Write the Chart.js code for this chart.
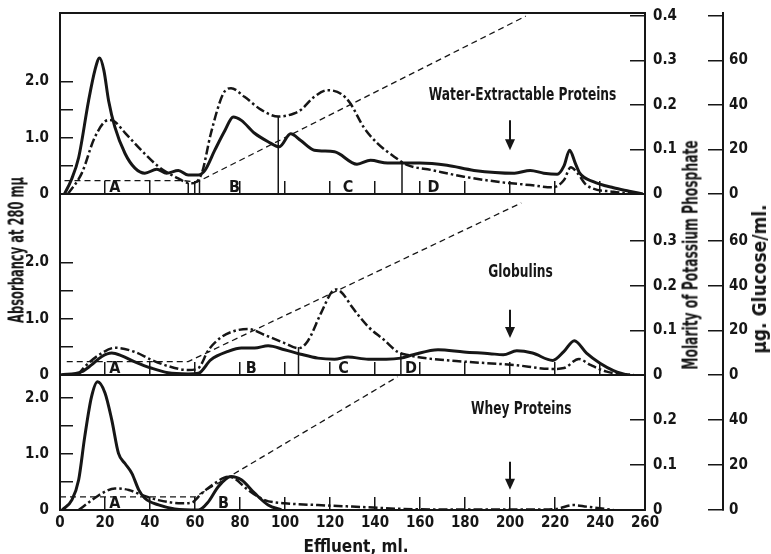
<!DOCTYPE html>
<html>
<head>
<meta charset="utf-8">
<script src="https://cdn.jsdelivr.net/npm/chart.js@4.4.1/dist/chart.umd.min.js"></script>
<style>
  html, body { margin: 0; padding: 0; background: #fff; }
  #wrap { position: relative; width: 771px; height: 554px; overflow: hidden; background: #fff; }
  #wrap canvas { position: absolute; left: 0; top: 0; }
  .lbl {
    position: absolute;
    font-family: 'Liberation Sans Narrow', 'DejaVu Sans Condensed', sans-serif;
    font-weight: bold;
    color: #161616;
    white-space: nowrap;
    line-height: 1;
    transform: translate(-50%, -50%);
  }
</style>
</head>
<body>
<div id="wrap">
  <canvas id="topChart" width="771" height="554"></canvas>
  <canvas id="midChart" width="771" height="554"></canvas>
  <canvas id="botChart" width="771" height="554"></canvas>
  <div class="lbl" style="left:17px; top:250px; font-size:21px; transform:translate(-50%,-50%) rotate(-90deg) scaleX(0.61);">Absorbancy at 280 mμ</div>
  <div class="lbl" style="left:691px; top:255px; font-size:21px; transform:translate(-50%,-50%) rotate(-90deg) scaleX(0.65);">Molarity of Potassium Phosphate</div>
  <div class="lbl" style="left:759px; top:279px; font-size:20px; transform:translate(-50%,-50%) rotate(-90deg) scaleX(0.95);">μg. Glucose/ml.</div>
  <div class="lbl" style="left:356px; top:546px; font-size:17px;">Effluent, ml.</div>
</div>
<script>
const FONT = "'Liberation Sans Narrow', 'DejaVu Sans Condensed', sans-serif";
const INK = '#161616';

const xTicks = [0, 20, 40, 60, 80, 100, 120, 140, 160, 180, 200, 220, 240, 260];
const arrowMl = 200;

// Water-extractable proteins
const topAbsMl = [2, 5, 8.3, 12.7, 15.5, 17.6, 19.5, 21.6, 24.4, 28.9, 33.3, 37.7, 43, 47.4, 52.6, 57, 61.5, 64.4, 68.8, 73.3, 77, 80.6, 86.5, 92.5, 97.5, 102.5, 107, 113, 122, 132, 138, 145.6, 160, 172, 184, 202, 209, 215, 221, 224, 226.5, 229, 231, 237, 246, 253, 259];
const topAbs = [0, 0.25, 0.65, 1.66, 2.2, 2.42, 2.2, 1.66, 1.19, 0.72, 0.46, 0.37, 0.44, 0.37, 0.42, 0.34, 0.34, 0.42, 0.78, 1.13, 1.37, 1.31, 1.08, 0.93, 0.84, 1.07, 0.95, 0.78, 0.75, 0.53, 0.6, 0.55, 0.55, 0.51, 0.42, 0.37, 0.42, 0.37, 0.35, 0.5, 0.78, 0.55, 0.37, 0.22, 0.11, 0.05, 0];
const topGlucMl = [3.5, 9.7, 15.5, 21.6, 23.6, 29, 36, 43.8, 51, 58.5, 63, 67, 72.5, 76, 82, 89.5, 97, 104, 107, 113, 119, 125, 129, 135, 141, 148.5, 154.5, 165, 179.5, 194.5, 209, 219, 224, 227, 230, 234, 246, 259];
const topGluc = [0, 9.4, 25.6, 33.3, 33, 27.4, 19.8, 12.3, 7.8, 4.8, 9.3, 27, 45, 47.6, 43.7, 37.8, 34.8, 36.2, 37.8, 43.7, 46.7, 45, 40.8, 30, 22.9, 16.8, 13, 10.8, 7.8, 5.5, 4, 3, 6.3, 12, 9.4, 4, 1, 0];
const topMolMl = [2, 55, 61, 207];
const topMol = [0.03, 0.03, 0.027, 0.4];
const topLetters = ['A', 'B', 'C', 'D'];
const topLetterMl = [24.4, 77.5, 128, 166];
const topCutMl = [57, 62, 97, 152];
const topCutGluc = [5, 6.5, 35, 14.5];
const topArrow = [1.31, 0.78];

// Globulins
const midAbsMl = [0, 9.7, 14, 18.6, 23, 27.5, 33, 40.8, 48, 57, 61.5, 67, 74.7, 80.6, 86.5, 92.5, 99.8, 107, 114.6, 122, 128, 137, 145, 151.5, 157, 168, 179.5, 191, 197, 203, 210, 219, 224, 228.6, 234, 240, 246, 252];
const midAbs = [0, 0.06, 0.18, 0.33, 0.39, 0.34, 0.24, 0.12, 0.04, 0.02, 0.03, 0.27, 0.42, 0.48, 0.48, 0.52, 0.45, 0.37, 0.3, 0.28, 0.32, 0.28, 0.28, 0.3, 0.36, 0.45, 0.41, 0.38, 0.36, 0.43, 0.39, 0.26, 0.42, 0.61, 0.39, 0.21, 0.08, 0];
const midGlucMl = [8, 11, 18.6, 24.4, 33, 40.8, 48, 57, 61.5, 66, 71.8, 77.5, 83.6, 91, 99.8, 106, 110, 116, 121, 123, 126, 129.4, 137, 144, 150, 155, 162, 179.5, 201.6, 219, 224, 230.6, 235.7, 243, 255];
const midGluc = [0, 3.7, 9.8, 12.2, 10.4, 6.7, 4, 2.2, 3.1, 11.2, 17, 19.7, 20.6, 17.9, 14.3, 12, 15, 27.7, 37.5, 38.3, 36, 31, 21.6, 15.7, 10.4, 8.8, 7.6, 6, 4.5, 2.7, 3.1, 7.2, 4.5, 1.5, 0];
const midMolMl = [3, 57, 205];
const midMol = [0.03, 0.03, 0.385];
const midLetters = ['A', 'B', 'C', 'D'];
const midLetterMl = [24.4, 85, 126, 156];
const midCutMl = [106, 151.5];
const midCutGluc = [12.5, 10];
const midArrow = [1.16, 0.66];

// Whey proteins
const botAbsMl = [1, 5.3, 8.3, 11, 14, 16.7, 20, 23, 26, 28.9, 32, 35, 37.7, 43.8, 51, 61.5, 66, 70.4, 76, 80.6, 86.5, 92.5, 98.4];
const botAbs = [0, 0.18, 0.54, 1.31, 2.02, 2.29, 2.09, 1.61, 1.01, 0.83, 0.65, 0.36, 0.21, 0.09, 0.02, 0, 0.15, 0.42, 0.6, 0.54, 0.3, 0.09, 0];
const botGlucMl = [8.3, 14.2, 18.6, 24.4, 30.6, 36.3, 43.8, 54, 58.5, 63, 68.8, 74.7, 77.5, 83.6, 91, 99.8, 114.6, 137, 152, 180, 215, 221, 228, 234, 246];
const botGluc = [0, 4.4, 7.4, 9.6, 8.9, 6.7, 4.4, 3, 3.3, 7.4, 11.9, 14.8, 14, 8.9, 4.4, 3, 2.2, 1.2, 0.5, 0.2, 0.2, 0.5, 2.2, 1.5, 0];
const botMolMl = [0, 60, 150];
const botMol = [0.029, 0.029, 0.296];
const botLetters = ['A', 'B'];
const botLetterMl = [24.4, 72.7];
const botCutMl = [];
const botCutGluc = [];
const botArrow = [0.86, 0.36];

Chart.defaults.font.family = FONT;
Chart.defaults.font.weight = 'bold';
Chart.defaults.font.size = 15;
Chart.defaults.color = INK;

const pts = (xs, ys) => xs.map((x, i) => ({ x, y: ys[i] }));
const setTicks = (list) => (scale) => { scale.ticks = list.map((v) => ({ value: v })); };

// fixed axis size; drop the label overhang so it does not push the plot area
const fixWidth = (w) => (s) => { s.width = w; s.paddingTop = 0; s.paddingBottom = 0; };
const fixHeight = (h) => (s) => { s.height = h; s.paddingLeft = 0; s.paddingRight = 0; };

const panelMarks = {
  id: 'panelMarks',
  afterDatasetsDraw(chart, args, o) {
    const { ctx, chartArea } = chart;
    const x = chart.scales.x;
    const a = chart.scales.abs;
    const g = chart.scales.gluc;
    ctx.save();
    ctx.strokeStyle = INK;
    ctx.fillStyle = INK;

    // fraction cuts, from the baseline up to the glucose curve
    ctx.lineWidth = 1.5;
    o.cutMl.forEach((ml, i) => {
      const px = x.getPixelForValue(ml);
      ctx.beginPath();
      ctx.moveTo(px, g.getPixelForValue(0));
      ctx.lineTo(px, g.getPixelForValue(o.cutGluc[i]));
      ctx.stroke();
    });

    ctx.font = `bold 16px ${FONT}`;
    ctx.textAlign = 'center';
    ctx.textBaseline = 'alphabetic';
    o.letters.forEach((t, i) => {
      ctx.fillText(t, x.getPixelForValue(o.letterMl[i]), chartArea.bottom - 2);
    });

    // panel title, condensed like the original face
    ctx.save();
    ctx.translate(x.getPixelForValue(o.titleAt[0]), a.getPixelForValue(o.titleAt[1]));
    ctx.scale(0.8, 1);
    ctx.font = `bold 17px ${FONT}`;
    ctx.textBaseline = 'middle';
    ctx.fillText(o.title, 0, 0);
    ctx.restore();

    // arrow at the start of the salt step
    const ax = x.getPixelForValue(arrowMl);
    const y0 = a.getPixelForValue(o.arrow[0]);
    const y1 = a.getPixelForValue(o.arrow[1]);
    ctx.lineWidth = 2;
    ctx.beginPath();
    ctx.moveTo(ax, y0);
    ctx.lineTo(ax, y1 - 8);
    ctx.stroke();
    ctx.beginPath();
    ctx.moveTo(ax - 5, y1 - 11);
    ctx.lineTo(ax + 5, y1 - 11);
    ctx.lineTo(ax, y1);
    ctx.closePath();
    ctx.fill();
    ctx.restore();
  }
};

function makePanel(id, p) {
  const scales = {
    x: {
      type: 'linear', position: 'bottom', min: 0, max: 260,
      afterBuildTicks: setTicks(xTicks),
      ticks: { display: p.xLabels, padding: 17, autoSkip: false, maxRotation: 0, callback: (v) => v },
      grid: { drawOnChartArea: false, tickLength: -13, color: INK, lineWidth: 1.5 },
      border: { color: INK, width: 2 },
      afterFit: fixHeight(p.xHeight)
    },
    abs: {
      type: 'linear', position: 'left', min: 0, max: p.absMax,
      afterBuildTicks: setTicks([0, 0.5, 1, 1.5, 2]),
      ticks: {
        padding: 24, autoSkip: false,
        callback: (v) => (v === 0 ? '0' : Number.isInteger(v) ? v.toFixed(1) : '')
      },
      grid: { drawOnChartArea: false, tickLength: -13, color: INK, lineWidth: 1.5 },
      border: { color: INK, width: 2 },
      afterFit: fixWidth(60)
    },
    mol: {
      type: 'linear', position: 'right', weight: 0, min: 0, max: p.molMax,
      afterBuildTicks: setTicks(p.molTicks),
      ticks: { padding: 23, autoSkip: false, callback: (v) => (v === 0 ? '0' : v.toFixed(1)) },
      grid: { drawOnChartArea: false, tickLength: -15, color: INK, lineWidth: 1.5 },
      border: { color: INK, width: 2 },
      afterFit: fixWidth(78)
    },
    gluc: {
      type: 'linear', position: 'right', weight: 1, min: 0, max: p.glucMax,
      afterBuildTicks: setTicks(p.glucTicks),
      ticks: { padding: 21, autoSkip: false, callback: (v) => (v > 60 ? '' : String(v)) },
      grid: { drawOnChartArea: false, tickLength: -15, color: INK, lineWidth: 1.5 },
      border: { color: INK, width: 2 },
      afterFit: fixWidth(48)
    }
  };
  if (p.topBorder) {
    scales.xTop = {
      type: 'linear', position: 'top', min: 0, max: 260,
      ticks: { display: false },
      grid: { display: false, drawTicks: false },
      border: { color: INK, width: 2 },
      afterFit: fixHeight(13)
    };
  }

  new Chart(document.getElementById(id), {
    type: 'line',
    data: {
      datasets: [
        {
          label: 'Absorbance', data: pts(p.absMl, p.abs), yAxisID: 'abs',
          borderColor: INK, borderWidth: 3, pointRadius: 0, cubicInterpolationMode: 'monotone'
        },
        {
          label: 'Glucose', data: pts(p.glucMl, p.gluc), yAxisID: 'gluc',
          borderColor: INK, borderWidth: 2.5, borderDash: [9, 3, 2.5, 3], pointRadius: 0,
          cubicInterpolationMode: 'monotone'
        },
        {
          label: 'Molarity', data: pts(p.molMl, p.mol), yAxisID: 'mol',
          borderColor: INK, borderWidth: 1.3, borderDash: [6, 4], pointRadius: 0, tension: 0
        }
      ]
    },
    options: {
      responsive: false,
      devicePixelRatio: 1,
      animation: false,
      events: [],
      layout: { padding: { left: 0, right: 0, top: p.padTop, bottom: p.padBottom } },
      scales,
      plugins: {
        legend: { display: false },
        tooltip: { enabled: false },
        panelMarks: {
          cutMl: p.cutMl, cutGluc: p.cutGluc, letters: p.letters, letterMl: p.letterMl,
          title: p.title, titleAt: p.titleAt, arrow: p.arrow
        }
      }
    },
    plugins: [panelMarks]
  });
}

makePanel('topChart', {
  padTop: 0, padBottom: 360, xHeight: 0, xLabels: false, topBorder: true,
  absMax: 3.22, molMax: 0.407, glucMax: 81.4,
  molTicks: [0, 0.1, 0.2, 0.3, 0.4], glucTicks: [0, 20, 40, 60, 80],
  absMl: topAbsMl, abs: topAbs, glucMl: topGlucMl, gluc: topGluc, molMl: topMolMl, mol: topMol,
  letters: topLetters, letterMl: topLetterMl, cutMl: topCutMl, cutGluc: topCutGluc,
  title: 'Water-Extractable Proteins', titleAt: [205.6, 1.75], arrow: topArrow
});

makePanel('midChart', {
  padTop: 194, padBottom: 179, xHeight: 0, xLabels: false, topBorder: false,
  absMax: 3.22, molMax: 0.405, glucMax: 81,
  molTicks: [0, 0.1, 0.2, 0.3], glucTicks: [0, 20, 40, 60],
  absMl: midAbsMl, abs: midAbs, glucMl: midGlucMl, gluc: midGluc, molMl: midMolMl, mol: midMol,
  letters: midLetters, letterMl: midLetterMl, cutMl: midCutMl, cutGluc: midCutGluc,
  title: 'Globulins', titleAt: [204.7, 1.82], arrow: midArrow
});

makePanel('botChart', {
  padTop: 375, padBottom: 0, xHeight: 44, xLabels: true, topBorder: false,
  absMax: 2.41, molMax: 0.3, glucMax: 60,
  molTicks: [0, 0.1, 0.2], glucTicks: [0, 20, 40],
  absMl: botAbsMl, abs: botAbs, glucMl: botGlucMl, gluc: botGluc, molMl: botMolMl, mol: botMol,
  letters: botLetters, letterMl: botLetterMl, cutMl: botCutMl, cutGluc: botCutGluc,
  title: 'Whey Proteins', titleAt: [205, 1.8], arrow: botArrow
});
</script>
</body>
</html>
